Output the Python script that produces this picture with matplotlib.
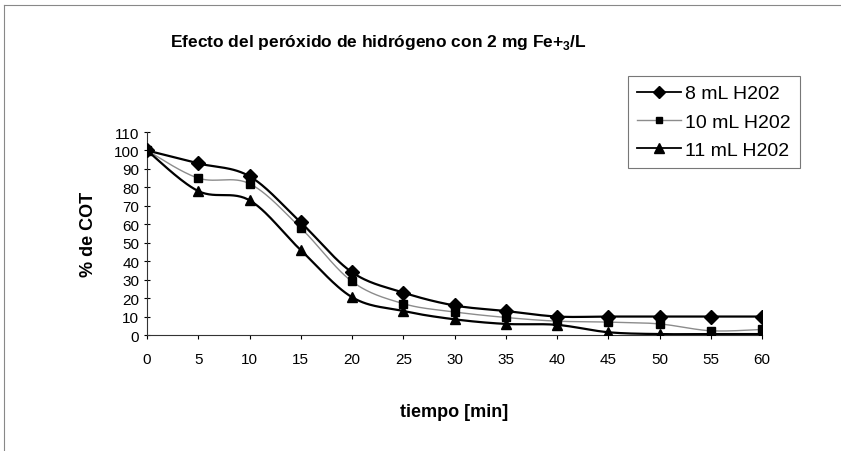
import numpy as np
import matplotlib.pyplot as plt
from matplotlib.lines import Line2D

# tiempo en minutos y % de COT remanente
tiempo = [0, 5, 10, 15, 20, 25, 30, 35, 40, 45, 50, 55, 60]
cot_8ml = [100, 93, 86, 61, 34, 23, 16, 13, 10, 10, 10, 10, 10]
cot_10ml = [100, 85, 82, 58, 29, 17, 12.5, 9.5, 7.5, 7, 6, 2.3, 3]
cot_11ml = [100, 78, 73, 46, 20.5, 13, 8.5, 6, 5.5, 1.5, 0.5, 0.5, 0.5]
etiquetas = ['8 mL H202', '10 mL H202', '11 mL H202']

titulo = r'Efecto del peróxido de hidrógeno con 2 mg Fe+$_\mathbf{3}$/L'


def suavizar(x, y, n=30):
    # curva tipo Catmull-Rom (linea suavizada estilo Excel)
    x = np.asarray(x, float)
    y = np.asarray(y, float)
    px = np.concatenate([[x[0]], x, [x[-1]]])
    py = np.concatenate([[y[0]], y, [y[-1]]])
    xs, ys = [], []
    t = np.linspace(0, 1, n)
    for i in range(1, len(px) - 2):
        p0 = np.array([px[i], py[i]])
        p3 = np.array([px[i + 1], py[i + 1]])
        p1 = p0 + (np.array([px[i + 1], py[i + 1]]) - np.array([px[i - 1], py[i - 1]])) / 6
        p2 = p3 - (np.array([px[i + 2], py[i + 2]]) - np.array([px[i], py[i]])) / 6
        b = ((1 - t) ** 3)[:, None] * p0 + (3 * (1 - t) ** 2 * t)[:, None] * p1 \
            + (3 * (1 - t) * t ** 2)[:, None] * p2 + (t ** 3)[:, None] * p3
        xs.extend(b[:, 0])
        ys.extend(b[:, 1])
    return xs, ys


plt.rcParams['font.family'] = ['Liberation Sans', 'DejaVu Sans']
plt.rcParams['mathtext.fontset'] = 'custom'
plt.rcParams['mathtext.rm'] = 'Liberation Sans'
plt.rcParams['mathtext.bf'] = 'Liberation Sans:bold'

fig = plt.figure(figsize=(8.41, 4.52), dpi=100)
ax = fig.add_axes([147 / 841, 1 - 336 / 452, 615 / 841, 203 / 452])

series = [
    (cot_8ml, 'D', 'black', 1.6, 7),
    (cot_10ml, 's', '#8c8c8c', 1.0, 5.5),
    (cot_11ml, '^', 'black', 1.6, 7.5),
]
for vals, mk, col, lw, ms in series:
    sx, sy = suavizar(tiempo, vals)
    ax.plot(sx, sy, color=col, linewidth=lw, zorder=2)
    ax.plot(tiempo, vals, linestyle='none', marker=mk, color='black',
            markersize=ms, zorder=3)

ax.set_xlim(0, 60)
ax.set_ylim(0, 110)
ax.set_xticks(tiempo)
ax.set_yticks(np.arange(0, 111, 10))
for s in ['top', 'right']:
    ax.spines[s].set_visible(False)
for s in ['left', 'bottom']:
    ax.spines[s].set_linewidth(0.8)
    ax.spines[s].set_color('#333333')
ax.tick_params(axis='x', direction='out', length=3, width=0.8, labelsize=11, pad=9)
ax.tick_params(axis='y', direction='inout', length=5, width=0.8, labelsize=11, pad=3)
ax.set_ylabel('% de COT', fontsize=13, fontweight='bold', labelpad=12)
ax.set_xlabel('tiempo [min]', fontsize=13, fontweight='bold', labelpad=27)

fig.text(378 / 841, 1 - 43 / 452, titulo, fontsize=12.5, fontweight='bold',
         ha='center', va='center')

handles = [
    Line2D([], [], color='black', lw=1.3, marker='D', markersize=6),
    Line2D([], [], color='#8c8c8c', lw=1.0, marker='s', markersize=5,
           markerfacecolor='black', markeredgecolor='black'),
    Line2D([], [], color='black', lw=1.3, marker='^', markersize=7),
]
leg = fig.legend(handles, etiquetas, loc='upper left',
                 bbox_to_anchor=(628 / 841, 1 - 77 / 452), fontsize=14,
                 frameon=True, fancybox=False, edgecolor='#555555',
                 handlelength=2.3, handletextpad=0.2, borderpad=0.45,
                 labelspacing=0.55, borderaxespad=0)
leg.get_frame().set_linewidth(0.8)

# marco del area de grafico
fig.add_artist(Line2D([4 / 841, 1], [1 - 6 / 452, 1 - 6 / 452],
                      color='#888888', lw=0.8))
fig.add_artist(Line2D([4 / 841, 4 / 841], [0, 1 - 6 / 452],
                      color='#888888', lw=0.8))

fig.savefig('out.png', dpi=100)
